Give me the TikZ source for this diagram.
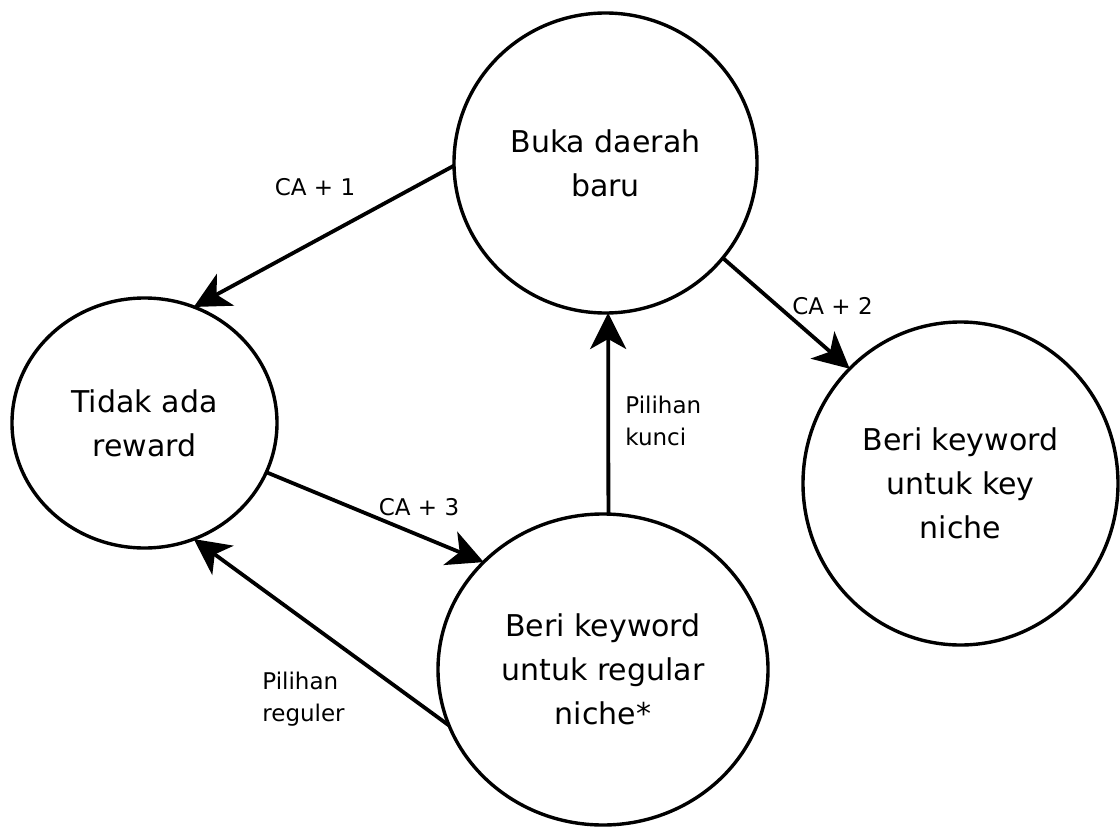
\documentclass[tikz,border=0pt]{standalone}
\usepackage{fontspec}
\setmainfont{DejaVu Sans}
\usetikzlibrary{shapes.geometric,arrows.meta}
\begin{document}
\begin{tikzpicture}[x=0.5pt,y=-0.5pt,
  state/.style={ellipse, draw, line width=1.7pt, inner sep=0pt, outer sep=0pt,
    align=center, font=\fontsize{15}{22}\selectfont},
  flow/.style={line width=1.9pt, -{Stealth[length=18pt,width=18pt,inset=5pt]}},
  tag/.style={font=\fontsize{11.5}{16}\selectfont, inner sep=0pt}]
\useasboundingbox (0,0) rectangle (1120,830);

% states
\node[state, minimum width=151.5pt, minimum height=150pt] (buka) at (605.5,163) {Buka daerah\\baru};
\node[state, minimum width=132.5pt, minimum height=125pt] (tidak) at (144.5,423) {Tidak ada\\reward};
\node[state, minimum width=157.5pt, minimum height=161.5pt] (keyn) at (960.5,483.5) {Beri keyword\\untuk key\\niche};
\node[state, minimum width=165pt, minimum height=155.5pt] (reg) at (603,669.5) {Beri keyword\\untuk regular\\niche*};

% transitions
\draw[flow] (buka.181) -- (tidak.67);
\draw[flow] (tidak.-22) -- (reg.138);
\draw[flow] (reg.200) -- (tidak.-67);
\draw[flow] (reg.88) -- (buka.271);
\draw[flow] (buka.-39) -- (keyn.134);

% transition labels
\node[tag] (t1) at (315,187) {CA + 1};
\node[tag] (t3) at (419,507) {CA + 3};
\node[tag] (t2) at (832.5,306) {CA + 2};
\node[tag, anchor=west, align=left] (tk) at (625,421) {Pilihan\\kunci};
\node[tag, anchor=west, align=left] (tr) at (262,699) {Pilihan\\reguler};
\end{tikzpicture}
\end{document}
